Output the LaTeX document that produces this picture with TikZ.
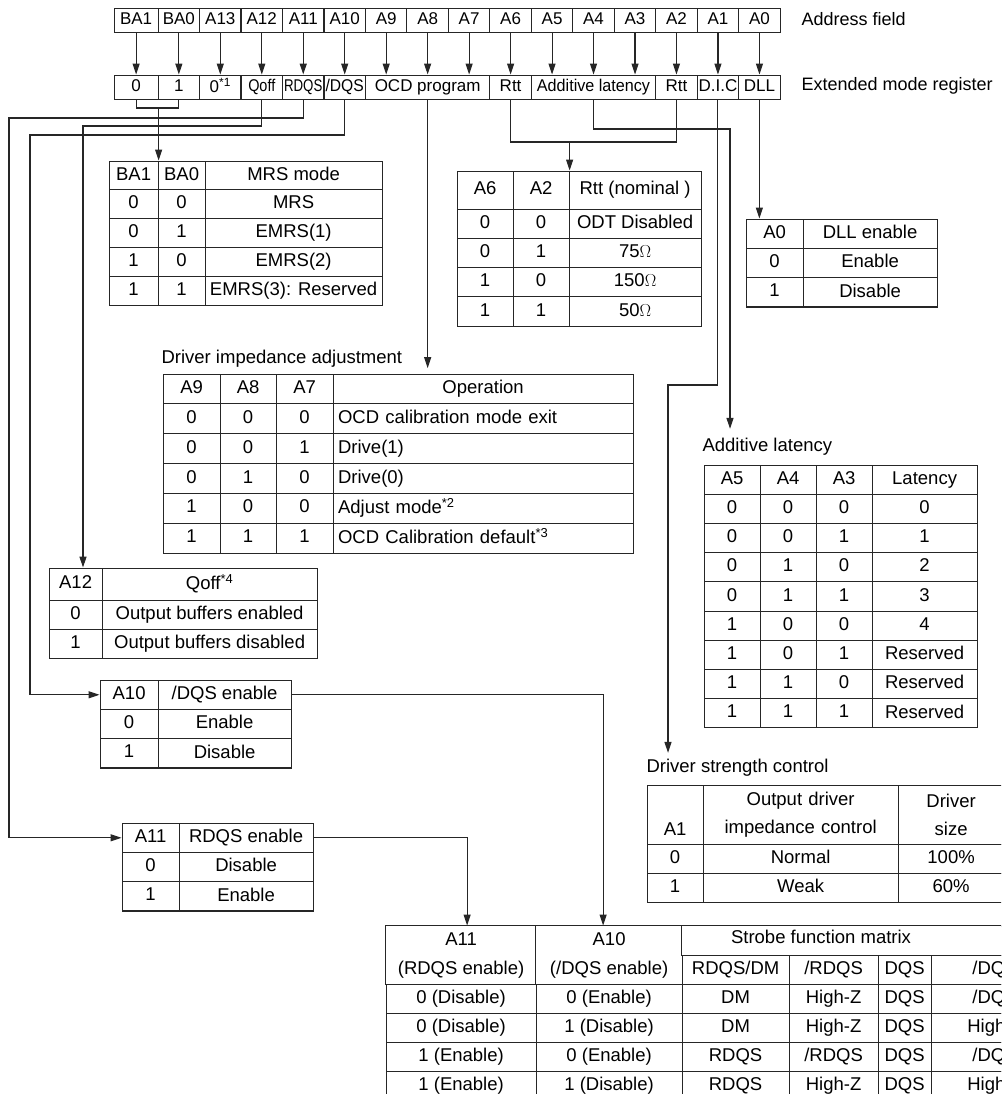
\documentclass[tikz,border=0pt]{standalone}
\usepackage{fontspec}
\setmainfont{Liberation Sans}
\usepackage{graphicx}
\usetikzlibrary{matrix, arrows.meta, positioning, calc, fit}

\newcommand{\tabstrut}{\rule[-4pt]{0pt}{17.2pt}}
\newcommand{\regstrut}{\rule[-3.5pt]{0pt}{15.7pt}}

\begin{document}
\begin{tikzpicture}[
		x=1pt, y=-1pt, line width=1.1pt,
		font=\fontsize{18.5}{22}\selectfont,
		% Register row styles
		regrow/.style={matrix of nodes, nodes={draw=black!85, minimum width=41.47pt, minimum height=24pt, inner sep=0pt, anchor=center, font=\fontsize{17}{20}\selectfont, execute at begin node=\regstrut}, column sep=-\pgflinewidth, row sep=-\pgflinewidth, inner sep=0pt, anchor=north west},
		% Table styles
		tab/.style={matrix of nodes, nodes in empty cells, nodes={draw=black!85, inner sep=0pt, anchor=center, execute at begin node=\tabstrut}, column sep=-\pgflinewidth, row sep=-\pgflinewidth, inner sep=0pt, anchor=north west},
		colw/.style 2 args={column #1/.style={nodes={minimum width=#2}}},
		twoline/.style={align=center, font=\fontsize{18.5}{28}\selectfont},
		cover/.style={draw=black!85, fill=white, inner sep=0pt},
		hdrtext/.style={inner sep=0pt, execute at begin node=\tabstrut},
		tablabel/.style={anchor=west, inner sep=0pt},
		% Connector styles
		wire/.style={draw=black!85},
		arr/.style={wire, -{Triangle[length=11pt, width=7pt]}}
		]
		\useasboundingbox (0,0) rectangle (1001,1094);
		\clip (0,0) rectangle (1001,1094);
		
		% --- REGISTER ROWS ---
		\matrix (addr) [regrow, colw={1}{44pt}] at (113,7) {
			BA1 & BA0 & A13 & A12 & A11 & A10 & A9 & A8 & A7 & A6 & A5 & A4 & A3 & A2 & A1 & A0 \\
		};
		\node[tablabel, font=\fontsize{18}{22}\selectfont] (addrlabel) at (801,19) {Address field};
		
		\matrix (emr) [regrow, colw={1}{44pt}, colw={7}{124.4pt}, colw={9}{124.4pt}] at (113,74) {
			0 & 1 & 0\textsuperscript{*1} & \scalebox{0.85}[1]{Qoff} & \scalebox{0.78}[1]{RDQS} & \scalebox{0.92}[1]{/DQS} & OCD program & Rtt & \scalebox{0.95}[1]{Additive latency} & Rtt & D.I.C & DLL \\
		};
		\node[tablabel, font=\fontsize{18}{22}\selectfont] (emrlabel) at (801,86) {Extended mode register};
		
		\foreach \k in {1,...,16}
			\draw[arr] (addr-1-\k) -- (addr-1-\k |- emr-1-1.north);
		
		% --- MODE TABLES ---
		
		% MRS mode
		\matrix (mrs) [tab, nodes={minimum height=28.8pt}, colw={1}{49pt}, colw={2}{47pt}, colw={3}{177pt}] at (108,160) {
			BA1 & BA0 & MRS mode \\
			0 & 0 & MRS \\
			0 & 1 & EMRS(1) \\
			1 & 0 & EMRS(2) \\
			1 & 1 & EMRS(3): Reserved \\
		};
		
		% Rtt
		\matrix (rtt) [tab, nodes={minimum height=29.25pt}, row 1/.style={nodes={minimum height=38pt}}, colw={1}{56pt}, colw={2}{56pt}, colw={3}{132pt}] at (456,170) {
			A6 & A2 & Rtt (nominal ) \\
			0 & 0 & ODT Disabled \\
			0 & 1 & 75$\Omega$ \\
			1 & 0 & 150$\Omega$ \\
			1 & 1 & 50$\Omega$ \\
		};
		
		% DLL
		\matrix (dll) [tab, nodes={minimum height=29.3pt}, colw={1}{57pt}, colw={2}{134pt}] at (745,218) {
			A0 & DLL enable \\
			0 & Enable \\
			1 & Disable \\
		};
		
		% OCD program
		\node[tablabel] (ocdtitle) at (161,359) {Driver impedance adjustment};
		\matrix (ocd) [tab, nodes={minimum height=29.83pt}, colw={1}{57pt}, colw={2}{56pt}, colw={3}{57pt}, column 4/.style={nodes={text width=290pt, align=left, inner xsep=5pt}}] at (162,373) {
			A9 & A8 & A7 & |[align=center]| Operation \\
			0 & 0 & 0 & OCD calibration mode exit \\
			0 & 0 & 1 & Drive(1) \\
			0 & 1 & 0 & Drive(0) \\
			1 & 0 & 0 & Adjust mode\textsuperscript{*2} \\
			1 & 1 & 1 & OCD Calibration default\textsuperscript{*3} \\
		};
		
		% Qoff
		\matrix (qoff) [tab, nodes={minimum height=29pt}, row 1/.style={nodes={minimum height=32pt}}, colw={1}{53pt}, colw={2}{215pt}] at (48,567) {
			A12 & Qoff\textsuperscript{*4} \\
			0 & Output buffers enabled \\
			1 & Output buffers disabled \\
		};
		
		% /DQS enable
		\matrix (dqs) [tab, nodes={minimum height=29.3pt}, colw={1}{58pt}, colw={2}{133pt}] at (99,679) {
			A10 & /DQS enable \\
			0 & Enable \\
			1 & Disable \\
		};
		
		% RDQS enable
		\matrix (rdqs) [tab, nodes={minimum height=29.3pt}, colw={1}{57pt}, colw={2}{134pt}] at (121,822) {
			A11 & RDQS enable \\
			0 & Disable \\
			1 & Enable \\
		};
		
		% Additive latency
		\node[tablabel] (altitle) at (702,447) {Additive latency};
		\matrix (al) [tab, nodes={minimum height=29.2pt}, colw={1}{56pt}, colw={2}{56pt}, colw={3}{56pt}, colw={4}{105pt}] at (703,464) {
			A5 & A4 & A3 & Latency \\
			0 & 0 & 0 & 0 \\
			0 & 0 & 1 & 1 \\
			0 & 1 & 0 & 2 \\
			0 & 1 & 1 & 3 \\
			1 & 0 & 0 & 4 \\
			1 & 0 & 1 & Reserved \\
			1 & 1 & 0 & Reserved \\
			1 & 1 & 1 & Reserved \\
		};
		
		% Driver strength
		\node[tablabel] (dstitle) at (646,768) {Driver strength control};
		\matrix (dic) [tab, nodes={minimum height=29pt}, row 1/.style={nodes={twoline, minimum height=59pt}}, colw={1}{56pt}, colw={2}{195pt}, colw={3}{106pt}] at (646,784) {
			|[text width=56pt]| \mbox{}\par A1 & |[text width=195pt]| Output driver\par impedance control & |[text width=106pt]| Driver\par size \\
			0 & Normal & 100\% \\
			1 & Weak & 60\% \\
		};
		
		% Strobe function matrix
		\matrix (strobe) [tab, nodes={minimum height=29pt}, colw={1}{150pt}, colw={2}{146pt}, colw={3}{107pt}, colw={4}{89pt}, colw={5}{53pt}, colw={6}{128pt}] at (385,925) {
			& & & & & \\
			& & RDQS/DM & /RDQS & DQS & /DQS \\
			0 (Disable) & 0 (Enable) & DM & High-Z & DQS & /DQS \\
			0 (Disable) & 1 (Disable) & DM & High-Z & DQS & High-Z \\
			1 (Enable) & 0 (Enable) & RDQS & /RDQS & DQS & /DQS \\
			1 (Enable) & 1 (Disable) & RDQS & High-Z & DQS & High-Z \\
		};
		\node[cover, fit=(strobe-1-1)(strobe-2-1)] (stra11) {};
		\node[cover, fit=(strobe-1-2)(strobe-2-2)] (stra10) {};
		\node[cover, fit=(strobe-1-3)(strobe-1-6)] (strhead) {};
		\node[hdrtext] (stra11top) at (strobe-1-1) {A11};
		\node[hdrtext] (stra11bot) at (strobe-2-1) {(RDQS enable)};
		\node[hdrtext] (stra10top) at (strobe-1-2) {A10};
		\node[hdrtext] (stra10bot) at (strobe-2-2) {(/DQS enable)};
		\node[hdrtext] (strtitle) at (821,939) {Strobe function matrix};
		
		% --- CONNECTIONS ---
		\coordinate (babus) at (0,108);
		\coordinate (rdqsbus) at (9,118);
		\coordinate (qoffbus) at (83,126);
		\coordinate (dqsbus) at (30,135);
		\coordinate (rttbus) at (0,142);
		\coordinate (albus) at (730,129);
		\coordinate (dicbus) at (668,385);
		
		% Bank address
		\draw[wire] (emr-1-1) |- (babus -| emr-1-2) -- (emr-1-2);
		\draw[arr] (babus -| emr-1-1.east) -- (mrs-1-1.north east);
		
		% Qoff, RDQS, /DQS
		\draw[arr] (emr-1-4) |- (qoffbus) -- (qoffbus |- qoff-1-1.north);
		\draw[arr] (emr-1-5) |- (rdqsbus) |- (rdqs-1-1.west);
		\draw[arr] (emr-1-6) |- (dqsbus) |- (dqs-1-1.west);
		
		% OCD program
		\draw[arr] (emr-1-7) -- (emr-1-7 |- ocdtitle.south);
		
		% Rtt
		\draw[wire] (emr-1-8) |- (rttbus -| emr-1-10) -- (emr-1-10);
		\draw[arr] (rttbus -| rtt-1-2.north east) -- (rtt-1-2.north east);
		
		% Additive latency, D.I.C, DLL
		\draw[arr] (emr-1-9) |- (albus) -- ($(albus |- altitle.north)+(0,-9)$);
		\draw[arr] (emr-1-11) |- (dicbus) -- ($(dicbus |- dstitle.north)+(0,-6)$);
		\draw[arr] (emr-1-12) -- (emr-1-12 |- dll-1-1.north);
		
		% Enables into strobe matrix
		\draw[arr] (dqs-1-2.east) -| ($(strobe-1-2.north)+(-6,0)$);
		\draw[arr] (rdqs-1-2.east) -| ($(strobe-1-1.north)+(6,0)$);
		
	\end{tikzpicture}
\end{document}
